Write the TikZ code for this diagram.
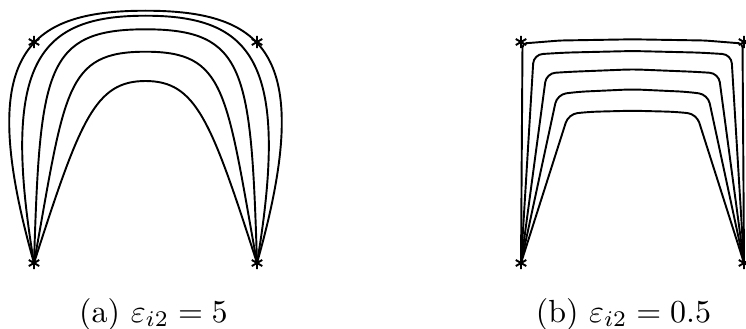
\documentclass[tikz,border=0pt]{standalone}
\usetikzlibrary{plotmarks}

\begin{document}
\begin{tikzpicture}[x=0.3125pt, y=-0.3125pt, line width=0.6pt]
            \useasboundingbox (0,0) rectangle (746,328);
            % control points
            \coordinate (a0) at (34,263); \coordinate (a1) at (34,42); \coordinate (a2) at (257,42); \coordinate (a3) at (257,263);
            \coordinate (b0) at (521,263); \coordinate (b1) at (521,42); \coordinate (b2) at (744,42); \coordinate (b3) at (744,263);
            \foreach \p in {a0,a1,a2,a3,b0,b1,b2,b3}
                \path[line width=0.6pt] plot[mark=asterisk, mark size=1.9pt] coordinates {(\p)};
            % (a) curves
            \foreach \ax/\ay/\bx/\ty in {-25/55/25/10.7, 0/60/40/15.7, 40/70/45/29.3, 65/90/65/51.7, 80/120/95/81}
                \draw (a0) .. controls (\ax,\ay) and (\bx,\ty) .. (145.5,\ty)
                    .. controls ({291-\bx},\ty) and ({291-\ax},\ay) .. (a3);
            % (b) curves
            \foreach \kx/\ky/\qx/\qy/\cy/\r in {522.5/43.5/560/40.5/39.3/1.2, 533.7/54.5/565/52.6/51/2.8,
                    546.4/73.3/570/71.8/69.3/2.8, 557.2/94.5/578/91.8/89.3/2.8, 568.5/114/590/111.8/110.7/2.8}
                \draw[rounded corners=\r pt] (b0) -- (\kx,\ky) -- (\qx,\qy) -- (632.5,\cy)
                    -- ({1265-\qx},\qy) -- ({1265-\kx},\ky) -- (b3);
            \node[anchor=base] (capa) at (153.5,322) {(a) $\varepsilon_{i2}=5$};
            \node[anchor=base] (capb) at (623.5,322) {(b) $\varepsilon_{i2}=0.5$};
        \end{tikzpicture}
\end{document}
